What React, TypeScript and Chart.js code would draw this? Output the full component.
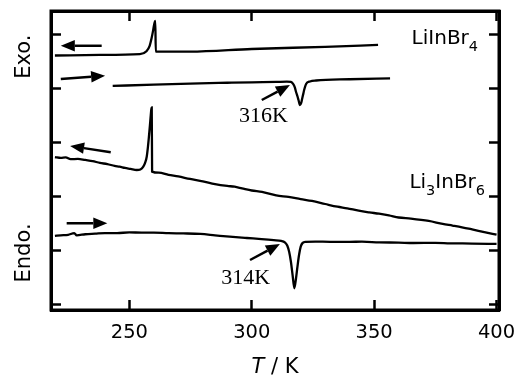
import React, { useEffect, useRef } from 'react';
import { Chart, registerables } from 'chart.js';

Chart.register(...registerables);

// Axis ranges and tick values
const xTicks = [250, 300, 350, 400];
const yTicks = [0, 1, 2, 3, 4, 5];
const X_MIN = 218;
const X_MAX = 401;
const Y_MIN = -0.093;
const Y_MAX = 5.444;

// LiInBr4, cooling
const coolT1 = [219.6, 238, 254.3, 257.0, 258.3, 259.1, 259.7, 260.1, 260.6, 260.8, 274.8, 300, 330, 351.6];
const coolV1 = [4.62, 4.63, 4.645, 4.70, 4.80, 4.944, 5.08, 5.185, 5.259, 4.69, 4.69, 4.74, 4.78, 4.815];

// LiInBr4, heating
const heatT1 = [243.2, 260, 274.8, 290, 300, 310, 314.3, 316.0, 316.9, 317.6, 318.1, 318.7, 319.1, 319.7, 320.2, 320.5, 321.0, 321.4, 322.2, 323.8, 326.3, 340, 356.5];
const heatV1 = [4.056, 4.08, 4.10, 4.115, 4.124, 4.13, 4.135, 4.13, 4.093, 4.03, 3.944, 3.86, 3.796, 3.70, 3.74, 3.80, 3.90, 3.98, 4.093, 4.139, 4.157, 4.18, 4.198];

// Li3InBr6, cooling
const coolT2 = [219.6, 222, 224, 226, 229, 232, 235, 238, 241, 244, 246, 248.2, 250.5, 253, 254.5, 255.7, 256.5, 257.1, 257.6, 258.0, 258.4, 258.7, 259.0, 259.15, 259.3, 262, 266, 270, 274.8, 280, 285, 290, 293, 296, 300, 304.2, 310, 315, 320, 324.6, 330, 335, 339, 343.7, 348, 352, 356, 360, 365, 372.3, 378, 382, 385.9, 390, 395, 400];
const coolV2 = [2.74, 2.725, 2.735, 2.70, 2.705, 2.685, 2.665, 2.63, 2.61, 2.574, 2.56, 2.537, 2.52, 2.50, 2.51, 2.56, 2.64, 2.746, 2.93, 3.117, 3.32, 3.487, 3.63, 3.661, 2.47, 2.45, 2.41, 2.38, 2.333, 2.29, 2.24, 2.205, 2.19, 2.16, 2.12, 2.093, 2.03, 2.0, 1.96, 1.926, 1.87, 1.82, 1.79, 1.746, 1.715, 1.69, 1.66, 1.62, 1.60, 1.556, 1.50, 1.47, 1.439, 1.40, 1.35, 1.302];

// Li3InBr6, heating
const heatT2 = [219.6, 222, 225, 227.5, 228.5, 232, 236, 240, 245, 250, 255, 260, 266, 272, 279, 285, 291, 298, 304, 309, 312, 313.5, 314.5, 315.3, 316, 316.7, 317.4, 318.1, 318.7, 319.3, 320, 320.8, 322, 326, 332, 340, 345, 352, 360, 366, 375, 381, 390, 400];
const heatV2 = [1.28, 1.29, 1.30, 1.33, 1.29, 1.31, 1.32, 1.33, 1.33, 1.345, 1.34, 1.34, 1.33, 1.325, 1.315, 1.29, 1.265, 1.24, 1.22, 1.20, 1.185, 1.16, 1.10, 0.98, 0.80, 0.55, 0.31, 0.50, 0.72, 0.92, 1.08, 1.15, 1.17, 1.175, 1.17, 1.17, 1.172, 1.16, 1.155, 1.148, 1.15, 1.142, 1.138, 1.13];

// Arrows: [fromT, fromV, toT, toV]
const arrows = [
  [238.7, 4.80, 222.0, 4.80],
  [222.0, 4.185, 240.1, 4.246],
  [242.4, 2.828, 225.8, 2.944],
  [224.4, 1.513, 241.0, 1.513],
  [304.1, 3.796, 315.6, 4.074],
  [299.3, 0.833, 311.5, 1.13],
];

// Transition temperature labels: [text, T, V]
const tempLabels: [string, number, number][] = [
  ['316K', 304.8, 3.394],
  ['314K', 297.5, 0.389],
];

// Compound labels: segments [text, isSubscript], T (left), V (baseline)
const compounds: { parts: [string, boolean][]; t: number; v: number }[] = [
  { parts: [['LiInBr', false], ['4', true]], t: 365.3, v: 4.833 },
  { parts: [['Li', false], ['3', true], ['InBr', false], ['6', true]], t: 364.4, v: 2.161 },
];

// Side labels: [text, V center]
const sideLabels: [string, number][] = [
  ['Exo.', 4.60],
  ['Endo.', 0.963],
];

const toXY = (t: number[], v: number[]) => t.map((tt, i) => ({ x: tt, y: v[i] }));

const drawArrow = (ctx: CanvasRenderingContext2D, x1: number, y1: number, x2: number, y2: number) => {
  const ang = Math.atan2(y2 - y1, x2 - x1);
  const hl = 14;
  const hw = 5.8;
  const bx = x2 - hl * Math.cos(ang);
  const by = y2 - hl * Math.sin(ang);
  ctx.beginPath();
  ctx.moveTo(x1, y1);
  ctx.lineTo(bx, by);
  ctx.lineWidth = 2.5;
  ctx.strokeStyle = '#000';
  ctx.stroke();
  ctx.beginPath();
  ctx.moveTo(x2, y2);
  ctx.lineTo(bx + hw * Math.sin(ang), by - hw * Math.cos(ang));
  ctx.lineTo(bx - hw * Math.sin(ang), by + hw * Math.cos(ang));
  ctx.closePath();
  ctx.fillStyle = '#000';
  ctx.fill();
};

const overlay = {
  id: 'overlay',
  afterDraw(chart: any) {
    const { ctx, chartArea } = chart;
    const xs = chart.scales.x;
    const ys = chart.scales.y;
    ctx.save();
    // frame
    ctx.lineWidth = 3;
    ctx.strokeStyle = '#000';
    ctx.strokeRect(chartArea.left, chartArea.top, chartArea.right - chartArea.left, chartArea.bottom - chartArea.top);

    arrows.forEach((a) => drawArrow(ctx, xs.getPixelForValue(a[0]), ys.getPixelForValue(a[1]), xs.getPixelForValue(a[2]), ys.getPixelForValue(a[3])));

    ctx.fillStyle = '#000';
    ctx.textBaseline = 'alphabetic';
    ctx.textAlign = 'center';
    ctx.font = '22px "Liberation Serif"';
    tempLabels.forEach(([s, t, v]) => ctx.fillText(s, xs.getPixelForValue(t), ys.getPixelForValue(v)));

    ctx.textAlign = 'left';
    compounds.forEach((c) => {
      let x = xs.getPixelForValue(c.t);
      const y = ys.getPixelForValue(c.v);
      c.parts.forEach(([s, sub]) => {
        ctx.font = sub ? '14.5px "DejaVu Sans"' : '20px "DejaVu Sans"';
        ctx.fillText(s, x, sub ? y + 7 : y);
        x += ctx.measureText(s).width;
      });
    });

    ctx.font = '21px "DejaVu Sans"';
    ctx.textAlign = 'center';
    ctx.textBaseline = 'middle';
    sideLabels.forEach(([s, v]) => {
      ctx.save();
      ctx.translate(chartArea.left - 26, ys.getPixelForValue(v));
      ctx.rotate(-Math.PI / 2);
      ctx.fillText(s, 0, 0);
      ctx.restore();
    });

    // x-axis title: italic T / K
    ctx.textBaseline = 'alphabetic';
    ctx.textAlign = 'left';
    const fi = 'italic 21px "DejaVu Sans"';
    const fn = '21px "DejaVu Sans"';
    ctx.font = fi;
    const w1 = ctx.measureText('T').width;
    ctx.font = fn;
    const w2 = ctx.measureText(' / K').width;
    const cx = (chartArea.left + chartArea.right) / 2;
    const by = chartArea.bottom + 63;
    ctx.font = fi;
    ctx.fillText('T', cx - (w1 + w2) / 2, by);
    ctx.font = fn;
    ctx.fillText(' / K', cx - (w1 + w2) / 2 + w1, by);
    ctx.restore();
  },
};

const gridOpts = {
  display: true,
  drawOnChartArea: false,
  drawTicks: true,
  tickLength: -10,
  tickWidth: 2.5,
  color: '#000',
};
const borderOpts = { display: true, width: 3, color: '#000' };
const setXTicks = (s: any) => { s.ticks = xTicks.map((v) => ({ value: v })); };
const setYTicks = (s: any) => { s.ticks = yTicks.map((v) => ({ value: v })); };
const fitX = (h: number) => (s: any) => {
  s.height = h;
  s.paddingLeft = 0;
  s.paddingRight = 0;
  s.paddingTop = 0;
  s.paddingBottom = 0;
};
const fitY = (w: number) => (s: any) => {
  s.width = w;
  s.paddingLeft = 0;
  s.paddingRight = 0;
  s.paddingTop = 0;
  s.paddingBottom = 0;
};

export default function App() {
  const ref = useRef<HTMLCanvasElement>(null);
  useEffect(() => {
    if (!ref.current) return;
    const ds = (t: number[], v: number[]) => ({
      data: toXY(t, v),
      borderColor: '#000',
      borderWidth: 2.3,
      pointRadius: 0,
      fill: false,
      cubicInterpolationMode: 'monotone' as const,
    });
    const chart = new Chart(ref.current, {
      type: 'line',
      data: {
        datasets: [ds(coolT1, coolV1), ds(heatT1, heatV1), ds(coolT2, coolV2), ds(heatT2, heatV2)],
      },
      options: {
        animation: false,
        responsive: false,
        layout: { padding: 0, autoPadding: false },
        plugins: { legend: { display: false }, tooltip: { enabled: false } },
        scales: {
          x: {
            type: 'linear',
            position: 'bottom',
            min: X_MIN,
            max: X_MAX,
            afterBuildTicks: setXTicks,
            afterFit: fitX(68),
            ticks: { color: '#000', font: { family: 'DejaVu Sans', size: 19.5 }, padding: 21 },
            grid: gridOpts,
            border: borderOpts,
          },
          x2: {
            type: 'linear',
            position: 'top',
            min: X_MIN,
            max: X_MAX,
            afterBuildTicks: setXTicks,
            afterFit: fitX(11),
            ticks: { display: false },
            grid: gridOpts,
            border: borderOpts,
          },
          y: {
            type: 'linear',
            position: 'left',
            min: Y_MIN,
            max: Y_MAX,
            afterBuildTicks: setYTicks,
            afterFit: fitY(51),
            ticks: { display: false },
            grid: gridOpts,
            border: borderOpts,
          },
          y2: {
            type: 'linear',
            position: 'right',
            min: Y_MIN,
            max: Y_MAX,
            afterBuildTicks: setYTicks,
            afterFit: fitY(26),
            ticks: { display: false },
            grid: gridOpts,
            border: borderOpts,
          },
        },
      },
      plugins: [overlay],
    });
    return () => chart.destroy();
  }, []);
  return (
    <div style={{ position: 'fixed', left: 0, top: 0, width: 525, height: 378, background: '#fff' }}>
      <canvas ref={ref} width={525} height={378} />
    </div>
  );
}
